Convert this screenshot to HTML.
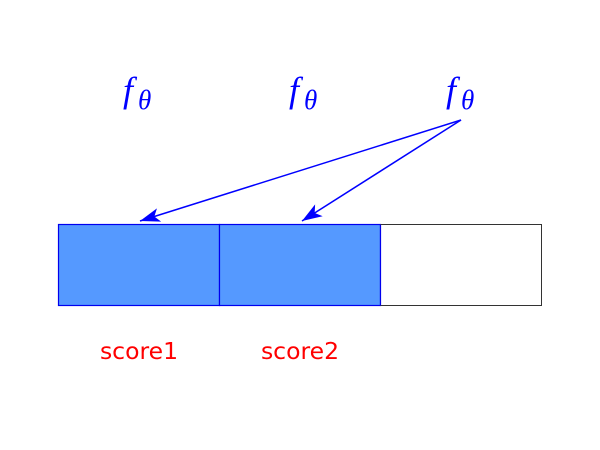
<!DOCTYPE html>
<html><head><meta charset="utf-8"><style>
html,body{margin:0;padding:0;background:#fff;}
svg{display:block;}
</style></head><body>
<svg width="600" height="450" viewBox="0 0 600 450" xmlns="http://www.w3.org/2000/svg">
<defs>
<marker id="ah" viewBox="0 0 20 14" refX="20" refY="7" markerWidth="20" markerHeight="14" markerUnits="userSpaceOnUse" orient="auto">
<path d="M0,0 L20,7 L0,14 L5,7 Z" fill="#0000ff"/>
</marker>
</defs>
<g fill="#0000ff" font-family="'Liberation Serif', serif" font-style="italic">
<text x="123" y="102" font-size="36">f</text><text x="138" y="109" font-size="27">θ</text></g>
<g fill="#0000ff" font-family="'Liberation Serif', serif" font-style="italic">
<text x="289" y="102" font-size="36">f</text><text x="304" y="109" font-size="27">θ</text></g>
<g fill="#0000ff" font-family="'Liberation Serif', serif" font-style="italic">
<text x="446" y="102" font-size="36">f</text><text x="461" y="109" font-size="27">θ</text></g>
<rect x="58.5" y="224.5" width="161" height="81" fill="#5599ff" stroke="#0000ee" stroke-width="1.2"/>
<rect x="219.5" y="224.5" width="161" height="81" fill="#5599ff" stroke="#0000ee" stroke-width="1.2"/>
<rect x="380.5" y="224.5" width="161" height="81" fill="#fff" stroke="#333" stroke-width="1"/>
<line x1="380.5" y1="224.5" x2="380.5" y2="305.5" stroke="#0000ee" stroke-width="1.2"/>
<line x1="461" y1="120" x2="140" y2="221" stroke="#0000ff" stroke-width="1.5" marker-end="url(#ah)"/>
<line x1="461" y1="120" x2="302" y2="221" stroke="#0000ff" stroke-width="1.5" marker-end="url(#ah)"/>
<text x="139" y="359" text-anchor="middle" font-family="'DejaVu Sans', sans-serif" font-size="23.5" fill="#ff0000">score1</text>
<text x="300" y="359" text-anchor="middle" font-family="'DejaVu Sans', sans-serif" font-size="23.5" fill="#ff0000">score2</text>
</svg>
</body></html>
